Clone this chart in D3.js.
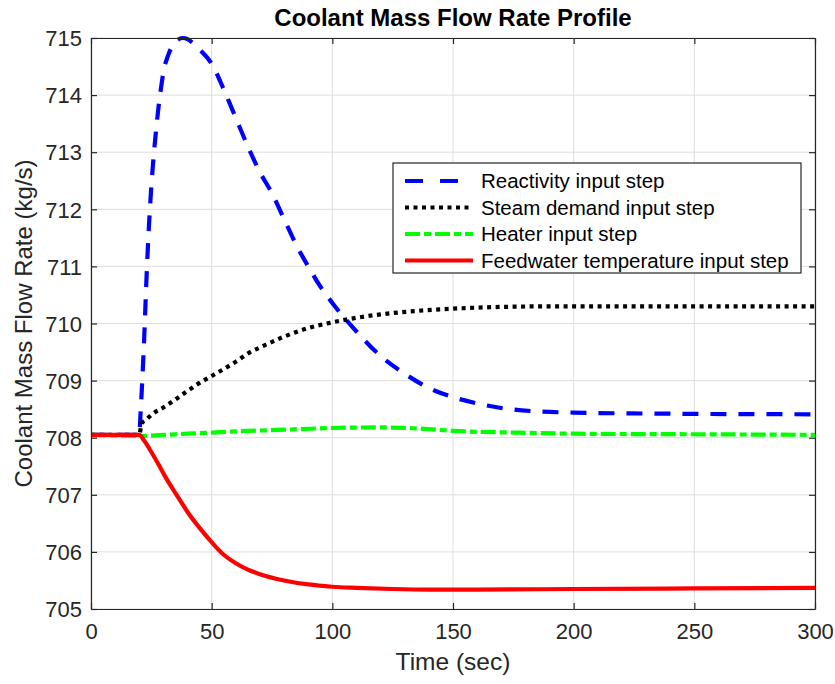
<!DOCTYPE html>
<html>
<head>
<meta charset="utf-8">
<script src="https://cdn.jsdelivr.net/npm/d3@7"></script>
<style>
  body { margin: 0; background: #fff; }
  svg { display: block; font-family: "Liberation Sans", Arial, sans-serif; }
</style>
</head>
<body>
<svg id="chart" width="835" height="684"></svg>
<script>
// time (sec) and coolant mass flow (kg/s)
const tReact = [0, 20, 20.5, 21, 22, 23, 24, 25, 26, 27, 28, 29, 30, 32, 34, 36, 38, 40, 42, 45, 50, 55, 60, 65, 70, 75, 80, 85, 90, 95, 100, 110, 120, 130, 140, 150, 160, 170, 185, 200, 240, 300];
const vReact = [708.05, 708.05, 708.4, 708.8, 709.7, 710.8, 711.7, 712.4, 712.95, 713.4, 713.8, 714.12, 714.4, 714.7, 714.88, 714.97, 715.0, 714.98, 714.92, 714.8, 714.55, 714.1, 713.6, 713.1, 712.65, 712.28, 711.83, 711.38, 711.0, 710.65, 710.36, 709.86, 709.43, 709.12, 708.87, 708.71, 708.6, 708.52, 708.46, 708.44, 708.42, 708.41];

const tSteam = [0, 20, 21, 23, 25, 30, 35, 40, 45, 50, 60, 66, 70, 80, 90, 100, 110, 120, 135, 155, 190, 250, 300];
const vSteam = [708.05, 708.05, 708.25, 708.32, 708.4, 708.53, 708.67, 708.82, 708.96, 709.08, 709.33, 709.5, 709.58, 709.77, 709.92, 710.02, 710.1, 710.16, 710.22, 710.27, 710.3, 710.3, 710.3];

const tHeater = [0, 20, 30, 40, 50, 60, 80, 100, 120, 130, 140, 150, 175, 200, 250, 300];
const vHeater = [708.05, 708.03, 708.05, 708.07, 708.09, 708.11, 708.14, 708.17, 708.18, 708.17, 708.15, 708.12, 708.09, 708.07, 708.06, 708.05];

const tFeed = [0, 20, 22, 25, 28, 31, 35, 40, 45, 50, 55, 60, 65, 70, 80, 90, 100, 110, 125, 140, 160, 200, 250, 300];
const vFeed = [708.05, 708.05, 707.95, 707.75, 707.53, 707.3, 707.03, 706.7, 706.42, 706.17, 705.95, 705.8, 705.69, 705.61, 705.5, 705.43, 705.39, 705.37, 705.35, 705.34, 705.34, 705.35, 705.36, 705.37];

const seriesNames = ['Reactivity input step', 'Steam demand input step', 'Heater input step', 'Feedwater temperature input step'];
const xTicks = [0, 50, 100, 150, 200, 250, 300];
const yTicks = [705, 706, 707, 708, 709, 710, 711, 712, 713, 714, 715];

const margin = { top: 38, right: 20, bottom: 75, left: 91 };
const width = 835 - margin.left - margin.right;
const height = 684 - margin.top - margin.bottom;
const axisColor = '#262626';

const svg = d3.select('#chart');
const g = svg.append('g').attr('transform', `translate(${margin.left},${margin.top})`);

const x = d3.scaleLinear().domain([0, 300]).range([0, width]);
const y = d3.scaleLinear().domain([705, 715]).range([height, 0]);

// grid
g.append('g').selectAll('line').data(xTicks).join('line')
    .attr('x1', d => x(d)).attr('x2', d => x(d))
    .attr('y1', 0).attr('y2', height)
    .attr('stroke', '#dedede').attr('stroke-width', 1);
g.append('g').selectAll('line').data(yTicks).join('line')
    .attr('x1', 0).attr('x2', width)
    .attr('y1', d => y(d)).attr('y2', d => y(d))
    .attr('stroke', '#dedede').attr('stroke-width', 1);

// series
const series = [
    { name: seriesNames[0], t: tReact, v: vReact, color: '#0000ff', dash: '16,12' },
    { name: seriesNames[1], t: tSteam, v: vSteam, color: '#000000', dash: '4,4.5' },
    { name: seriesNames[2], t: tHeater, v: vHeater, color: '#00ff00', dash: '15,4,7,4' },
    { name: seriesNames[3], t: tFeed, v: vFeed, color: '#ff0000', dash: null }
];

const line = d3.line()
    .x(d => x(d[0]))
    .y(d => y(d[1]))
    .curve(d3.curveMonotoneX);

g.append('clipPath').attr('id', 'clip').append('rect')
    .attr('x', 0).attr('y', -4).attr('width', width).attr('height', height + 8);

series.forEach(s => {
    g.append('path')
        .datum(s.t.map((t, i) => [t, s.v[i]]))
        .attr('fill', 'none')
        .attr('stroke', s.color)
        .attr('stroke-width', 4.2)
        .attr('stroke-dasharray', s.dash)
        .attr('clip-path', 'url(#clip)')
        .attr('d', line);
});

// axes (box with inward ticks on all sides)
const tickLen = 6;
const axBottom = g.append('g').attr('transform', `translate(0,${height})`)
    .call(d3.axisBottom(x).tickValues(xTicks).tickSizeInner(-tickLen).tickSizeOuter(0).tickPadding(14));
const axLeft = g.append('g')
    .call(d3.axisLeft(y).tickValues(yTicks).tickFormat(d3.format('d')).tickSizeInner(-tickLen).tickSizeOuter(0).tickPadding(9));
const axTop = g.append('g')
    .call(d3.axisTop(x).tickValues(xTicks).tickSizeInner(-tickLen).tickSizeOuter(0).tickFormat(''));
const axRight = g.append('g').attr('transform', `translate(${width},0)`)
    .call(d3.axisRight(y).tickValues(yTicks).tickSizeInner(-tickLen).tickSizeOuter(0).tickFormat(''));

[axBottom, axLeft, axTop, axRight].forEach(a => {
    a.select('.domain').attr('stroke', axisColor).attr('stroke-width', 1.2);
    a.selectAll('.tick line').attr('stroke', axisColor).attr('stroke-width', 1.2);
    a.selectAll('.tick text')
        .attr('fill', axisColor)
        .style('font-size', '22px')
        .style('font-family', '"Liberation Sans", Arial, sans-serif');
});
axLeft.selectAll('.tick text').attr('dy', '0.35em');

// titles
svg.append('text')
    .attr('x', margin.left + width / 2)
    .attr('y', 26)
    .attr('text-anchor', 'middle')
    .style('font-size', '24px')
    .style('font-weight', 'bold')
    .attr('fill', '#000')
    .text('Coolant Mass Flow Rate Profile');

svg.append('text')
    .attr('x', margin.left + width / 2)
    .attr('y', 670)
    .attr('text-anchor', 'middle')
    .style('font-size', '24.5px')
    .attr('fill', axisColor)
    .text('Time (sec)');

svg.append('text')
    .attr('transform', `translate(32,${margin.top + height / 2}) rotate(-90)`)
    .attr('text-anchor', 'middle')
    .style('font-size', '24px')
    .attr('fill', axisColor)
    .text('Coolant Mass Flow Rate (kg/s)');

// legend
const legend = svg.append('g').attr('transform', 'translate(393,163)');
legend.append('rect')
    .attr('width', 408).attr('height', 110)
    .attr('fill', '#fff')
    .attr('stroke', axisColor).attr('stroke-width', 1.2);

const legendDash = ['18,17', '4,4.5', '15,4,7,4', null];
series.forEach((s, i) => {
    const ly = 18 + i * 26.5;
    legend.append('line')
        .attr('x1', 12).attr('x2', 80)
        .attr('y1', ly).attr('y2', ly)
        .attr('stroke', s.color)
        .attr('stroke-width', 4)
        .attr('stroke-dasharray', legendDash[i]);
    legend.append('text')
        .attr('x', 88).attr('y', ly)
        .attr('dy', '0.35em')
        .style('font-size', '20.5px')
        .attr('fill', '#000')
        .text(s.name);
});
</script>
</body>
</html>
